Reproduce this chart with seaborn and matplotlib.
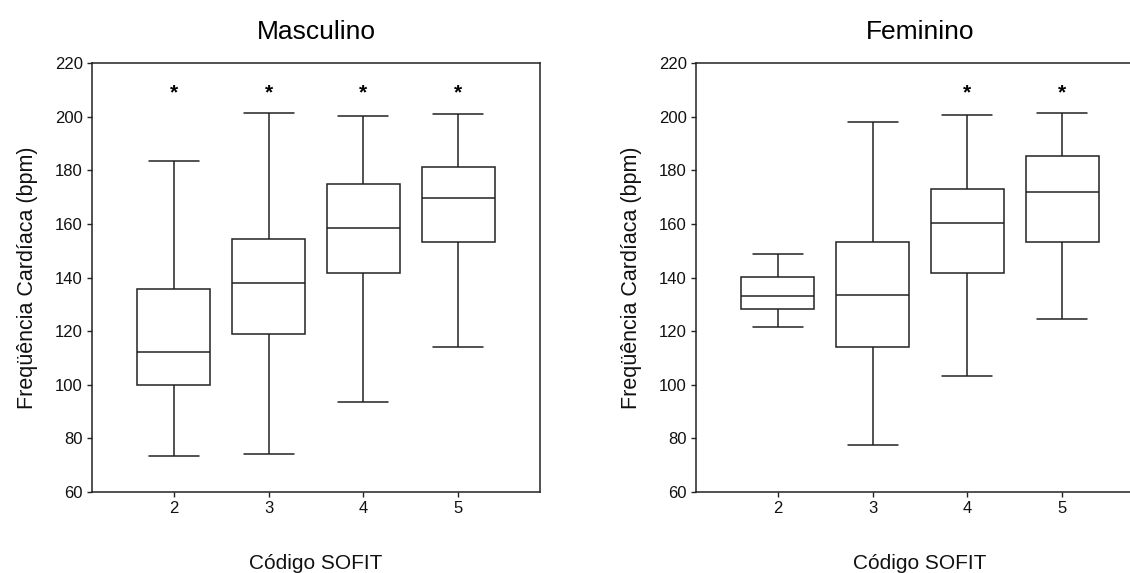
import numpy as np
import pandas as pd
import matplotlib
matplotlib.use("Agg")
import matplotlib.pyplot as plt
import seaborn as sns

categories = ["2", "3", "4", "5"]

# Masculino: whisker low, Q1, median, Q3, whisker high
masc_low = [73.5, 74.0, 93.4, 114.1]
masc_q1 = [100.0, 118.9, 141.7, 153.2]
masc_med = [112.2, 137.8, 158.5, 169.5]
masc_q3 = [135.8, 154.5, 174.7, 181.3]
masc_high = [183.5, 201.4, 200.1, 200.8]
masc_star = [True, True, True, True]

# Feminino
fem_low = [121.7, 77.4, 103.1, 124.6]
fem_q1 = [128.3, 114.2, 141.7, 153.2]
fem_med = [133.1, 133.5, 160.5, 172.0]
fem_q3 = [140.3, 153.2, 172.9, 185.3]
fem_high = [148.8, 198.1, 200.6, 201.4]
fem_star = [False, False, True, True]

star_y = 209
yticks = [60, 80, 100, 120, 140, 160, 180, 200, 220]


def make_df(low, q1, med, q3, high):
    rows = []
    for c, a, b, m, d, e in zip(categories, low, q1, med, q3, high):
        for v in (a, b, m, d, e):
            rows.append({"code": c, "hr": v})
    return pd.DataFrame(rows)


sns.set_style("white")
plt.rcParams["font.family"] = ["Liberation Sans", "DejaVu Sans"]

fig = plt.figure(figsize=(11.3, 5.73), dpi=100)
ax1 = fig.add_axes([92 / 1130, 81 / 573, 448 / 1130, 429 / 573])
ax2 = fig.add_axes([696 / 1130, 81 / 573, 448 / 1130, 429 / 573])

line_col = "#222222"
panels = [
    (ax1, "Masculino", make_df(masc_low, masc_q1, masc_med, masc_q3, masc_high), masc_star),
    (ax2, "Feminino", make_df(fem_low, fem_q1, fem_med, fem_q3, fem_high), fem_star),
]

for ax, title, df, stars in panels:
    sns.boxplot(
        data=df, x="code", y="hr", order=categories, ax=ax,
        whis=(0, 100), width=0.77, color="white", linecolor=line_col,
        linewidth=1.1, fliersize=0, capwidths=0.53,
    )
    for i, s in enumerate(stars):
        if s:
            ax.text(i, star_y, "*", ha="center", va="center",
                    fontsize=15, fontweight="bold", color="black")
    ax.set_xlim(-0.865, 3.865)
    ax.set_ylim(60, 220)
    ax.set_yticks(yticks)
    ax.set_yticklabels([str(t) for t in yticks])
    ax.set_title(title, fontsize=19, pad=17, color="black")
    ax.set_xlabel("Código SOFIT", fontsize=15, labelpad=27, color="#111111")
    ax.set_ylabel("Freqüência Cardíaca (bpm)", fontsize=15.5, labelpad=12,
                  color="#111111")
    ax.tick_params(axis="both", which="major", labelsize=12, direction="out",
                   length=3.5, width=1, color=line_col, left=True, bottom=True,
                   pad=3, labelcolor="#111111")
    for sp in ax.spines.values():
        sp.set_visible(True)
        sp.set_color(line_col)
        sp.set_linewidth(1.1)

fig.savefig("out.png", dpi=100, facecolor="white")
